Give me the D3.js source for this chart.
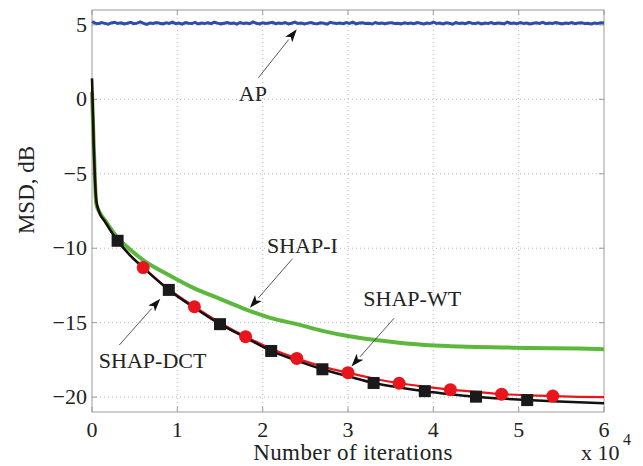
<!DOCTYPE html>
<html>
<head>
<meta charset="utf-8">
<script src="https://cdn.jsdelivr.net/npm/d3@7"></script>
<style>
  body { margin: 0; background: #fff; }
  text { font-family: "Liberation Serif", "DejaVu Serif", serif; fill: #222; }
</style>
</head>
<body>
<div id="chart"></div>
<script>
// iterations in units of 10^4
const sampleX = [0, 0.02, 0.05, 0.08, 0.15, 0.3, 0.45, 0.6, 0.9, 1.2, 1.5, 1.8, 2.1, 2.4, 2.7, 3.0, 3.3, 3.6, 3.9, 4.2, 4.5, 4.8, 5.1, 5.4, 5.7, 6.0];

const shapI   = [0.5, -3.0, -7.0, -7.5, -8.1, -9.3, -10.1, -10.8, -11.8, -12.7, -13.4, -14.1, -14.7, -15.1, -15.55, -15.9, -16.15, -16.35, -16.5, -16.58, -16.63, -16.66, -16.7, -16.72, -16.74, -16.78];
const shapWT  = [1.4, -3.0, -6.8, -7.5, -8.2, -9.5, -10.5, -11.3, -12.75, -13.93, -15.0, -15.94, -16.75, -17.4, -17.95, -18.36, -18.75, -19.07, -19.3, -19.5, -19.65, -19.8, -19.88, -19.93, -19.98, -20.0];
const shapDCT = [1.4, -3.0, -6.8, -7.5, -8.2, -9.5, -10.5, -11.3, -12.8, -14.0, -15.1, -16.0, -16.9, -17.55, -18.13, -18.6, -19.05, -19.35, -19.6, -19.8, -19.97, -20.1, -20.2, -20.28, -20.35, -20.42];

// marker positions
const circleX = [0.6, 1.2, 1.8, 2.4, 3.0, 3.6, 4.2, 4.8, 5.4];
const squareX = [0.3, 0.9, 1.5, 2.1, 2.7, 3.3, 3.9, 4.5, 5.1];

// AP curve
const apValues = [5.22, 5.12, 5.08, 5.15, 5.10, 5.05, 5.13, 5.18, 5.09, 5.14, 5.06, 5.11, 5.17, 5.08, 5.12, 5.20, 5.10, 5.04, 5.13, 5.09,
  5.16, 5.11, 5.07, 5.14, 5.10, 5.19, 5.08, 5.12, 5.05, 5.15, 5.11, 5.09, 5.17, 5.06, 5.13, 5.10, 5.14, 5.08, 5.18, 5.12,
  5.07, 5.11, 5.15, 5.09, 5.13, 5.05, 5.16, 5.10, 5.12, 5.08, 5.20, 5.11, 5.06, 5.14, 5.09, 5.13, 5.17, 5.08, 5.12, 5.10,
  5.15, 5.07, 5.11, 5.19, 5.09, 5.13, 5.06, 5.12, 5.16, 5.10, 5.08, 5.14, 5.11, 5.05, 5.17, 5.12, 5.09, 5.13, 5.08, 5.15,
  5.10, 5.18, 5.07, 5.12, 5.14, 5.09, 5.11, 5.06, 5.16, 5.10, 5.13, 5.08, 5.12, 5.15, 5.09, 5.11, 5.07, 5.14, 5.10, 5.12,
  5.08, 5.16, 5.11, 5.06, 5.13, 5.09, 5.18, 5.10, 5.12, 5.07, 5.14, 5.11, 5.05, 5.15, 5.10, 5.13, 5.08, 5.17, 5.11, 5.09,
  5.14, 5.06, 5.12, 5.10, 5.16, 5.08, 5.13, 5.11, 5.07, 5.19, 5.10, 5.12, 5.08, 5.15, 5.09, 5.13, 5.06, 5.11, 5.14, 5.10,
  5.17, 5.08, 5.12, 5.09, 5.15, 5.11, 5.07, 5.13, 5.10, 5.16, 5.08, 5.12, 5.14, 5.09, 5.11, 5.06, 5.13, 5.10, 5.15, 5.12];

const xTicks = [0, 1, 2, 3, 4, 5, 6];
const yTicks = [5, 0, -5, -10, -15, -20];

// annotations: label, text pos, arrow from, arrow tip (data units)
const notes = [
  {label: "AP",       tx: 1.72, ty: -0.1,  from: [1.95, 1.45],  to: [2.4, 4.7]},
  {label: "SHAP-I",   tx: 2.05, ty: -10.3, from: [2.35, -10.7], to: [1.85, -14.0]},
  {label: "SHAP-WT",  tx: 3.18, ty: -13.9, from: [3.54, -14.7], to: [3.04, -17.95]},
  {label: "SHAP-DCT", tx: 0.08, ty: -18.05, from: [0.32, -16.5], to: [0.8, -13.4]}
];

const W = 643, H = 466;
const m = {left: 92, right: 604, top: 10, bottom: 412};

const svg = d3.select('#chart').append('svg').attr('width', W).attr('height', H);

const x = d3.scaleLinear().domain([0, 6]).range([m.left, m.right]);
const y = d3.scaleLinear().domain([-21, 6]).range([m.bottom, m.top]);

// grid
const grid = svg.append('g').attr('class', 'grid');
grid.selectAll('.gx').data(xTicks.slice(1, -1)).join('line')
  .attr('x1', d => x(d)).attr('x2', d => x(d)).attr('y1', m.top).attr('y2', m.bottom)
  .attr('stroke', '#b8b8b8').attr('stroke-width', 1).attr('stroke-dasharray', '1,3');
grid.selectAll('.gy').data(yTicks).join('line')
  .attr('x1', m.left).attr('x2', m.right).attr('y1', d => y(d)).attr('y2', d => y(d))
  .attr('stroke', '#b8b8b8').attr('stroke-width', 1).attr('stroke-dasharray', '1,3');

// frame
svg.append('rect').attr('x', m.left).attr('y', m.top).attr('width', m.right - m.left).attr('height', m.bottom - m.top)
  .attr('fill', 'none').attr('stroke', '#9a9a9a').attr('stroke-width', 1);

// ticks (inward)
const tk = svg.append('g').attr('stroke', '#9a9a9a');
xTicks.forEach(d => {
  tk.append('line').attr('x1', x(d)).attr('x2', x(d)).attr('y1', m.bottom).attr('y2', m.bottom - 5);
  tk.append('line').attr('x1', x(d)).attr('x2', x(d)).attr('y1', m.top).attr('y2', m.top + 5);
});
yTicks.forEach(d => {
  tk.append('line').attr('x1', m.left).attr('x2', m.left + 5).attr('y1', y(d)).attr('y2', y(d));
  tk.append('line').attr('x1', m.right).attr('x2', m.right - 5).attr('y1', y(d)).attr('y2', y(d));
});

// tick labels
svg.selectAll('.xl').data(xTicks).join('text')
  .attr('x', d => x(d)).attr('y', 437).attr('text-anchor', 'middle')
  .style('font-size', '22px').text(d => d);
svg.selectAll('.yl').data(yTicks).join('text')
  .attr('x', 87).attr('y', d => y(d) + 7).attr('text-anchor', 'end')
  .style('font-size', '22px').text(d => d < 0 ? '\u2212' + (-d) : d);

// axis titles
svg.append('text').attr('x', 353).attr('y', 460).attr('text-anchor', 'middle')
  .style('font-size', '23px').style('letter-spacing', '0.4px').text('Number of iterations');
svg.append('text').attr('transform', 'translate(34,190) rotate(-90)').attr('text-anchor', 'middle')
  .style('font-size', '23px').text('MSD, dB');
svg.append('text').attr('x', 581).attr('y', 460).style('font-size', '22px').text('x 10');
svg.append('text').attr('x', 623).attr('y', 445).style('font-size', '16px').text('4');

// curves
const line = d3.line().x(d => x(d[0])).y(d => y(d[1])).curve(d3.curveMonotoneX);
const plot = svg.append('g');

const apData = apValues.map((v, i) => [6 * i / (apValues.length - 1), v]);
plot.append('path').datum(apData).attr('d', d3.line().x(d => x(d[0])).y(d => y(d[1])))
  .attr('fill', 'none').attr('stroke', '#2f4da6').attr('stroke-width', 3);

plot.append('path').datum(sampleX.map((v, i) => [v, shapI[i]])).attr('d', line)
  .attr('fill', 'none').attr('stroke', '#5cb83c').attr('stroke-width', 4);
plot.append('path').datum(sampleX.map((v, i) => [v, shapWT[i]])).attr('d', line)
  .attr('fill', 'none').attr('stroke', '#e8161c').attr('stroke-width', 2.2);
plot.append('path').datum(sampleX.map((v, i) => [v, shapDCT[i]])).attr('d', line)
  .attr('fill', 'none').attr('stroke', '#111').attr('stroke-width', 2.5);

const interp = (arr, xv) => {
  const i = d3.bisectRight(sampleX, xv) - 1;
  const t = (xv - sampleX[i]) / (sampleX[i + 1] - sampleX[i]);
  return arr[i] + t * (arr[i + 1] - arr[i]);
};

plot.selectAll('.circ').data(circleX).join('circle')
  .attr('cx', d => x(d)).attr('cy', d => y(interp(shapWT, d))).attr('r', 6.5)
  .attr('fill', '#e8161c');
plot.selectAll('.sq').data(squareX).join('rect')
  .attr('x', d => x(d) - 6).attr('y', d => y(interp(shapDCT, d)) - 6)
  .attr('width', 12).attr('height', 12).attr('fill', '#1a1a1a');

// annotations
const ann = svg.append('g');
notes.forEach(n => {
  ann.append('text').attr('x', x(n.tx)).attr('y', y(n.ty)).style('font-size', '22px').text(n.label);
  const x1 = x(n.from[0]), y1 = y(n.from[1]), x2 = x(n.to[0]), y2 = y(n.to[1]);
  const ang = Math.atan2(y2 - y1, x2 - x1);
  const len = 13, half = 4.5;
  const bx = x2 - len * Math.cos(ang), by = y2 - len * Math.sin(ang);
  ann.append('line').attr('x1', x1).attr('y1', y1).attr('x2', bx).attr('y2', by)
    .attr('stroke', '#444').attr('stroke-width', 0.9);
  const p1 = [bx + half * Math.sin(ang), by - half * Math.cos(ang)];
  const p2 = [bx - half * Math.sin(ang), by + half * Math.cos(ang)];
  const notch = [x2 - (len * 0.75) * Math.cos(ang), y2 - (len * 0.75) * Math.sin(ang)];
  ann.append('path').attr('d', `M${x2},${y2}L${p1[0]},${p1[1]}L${notch[0]},${notch[1]}L${p2[0]},${p2[1]}Z`)
    .attr('fill', '#111');
});
</script>
</body>
</html>
